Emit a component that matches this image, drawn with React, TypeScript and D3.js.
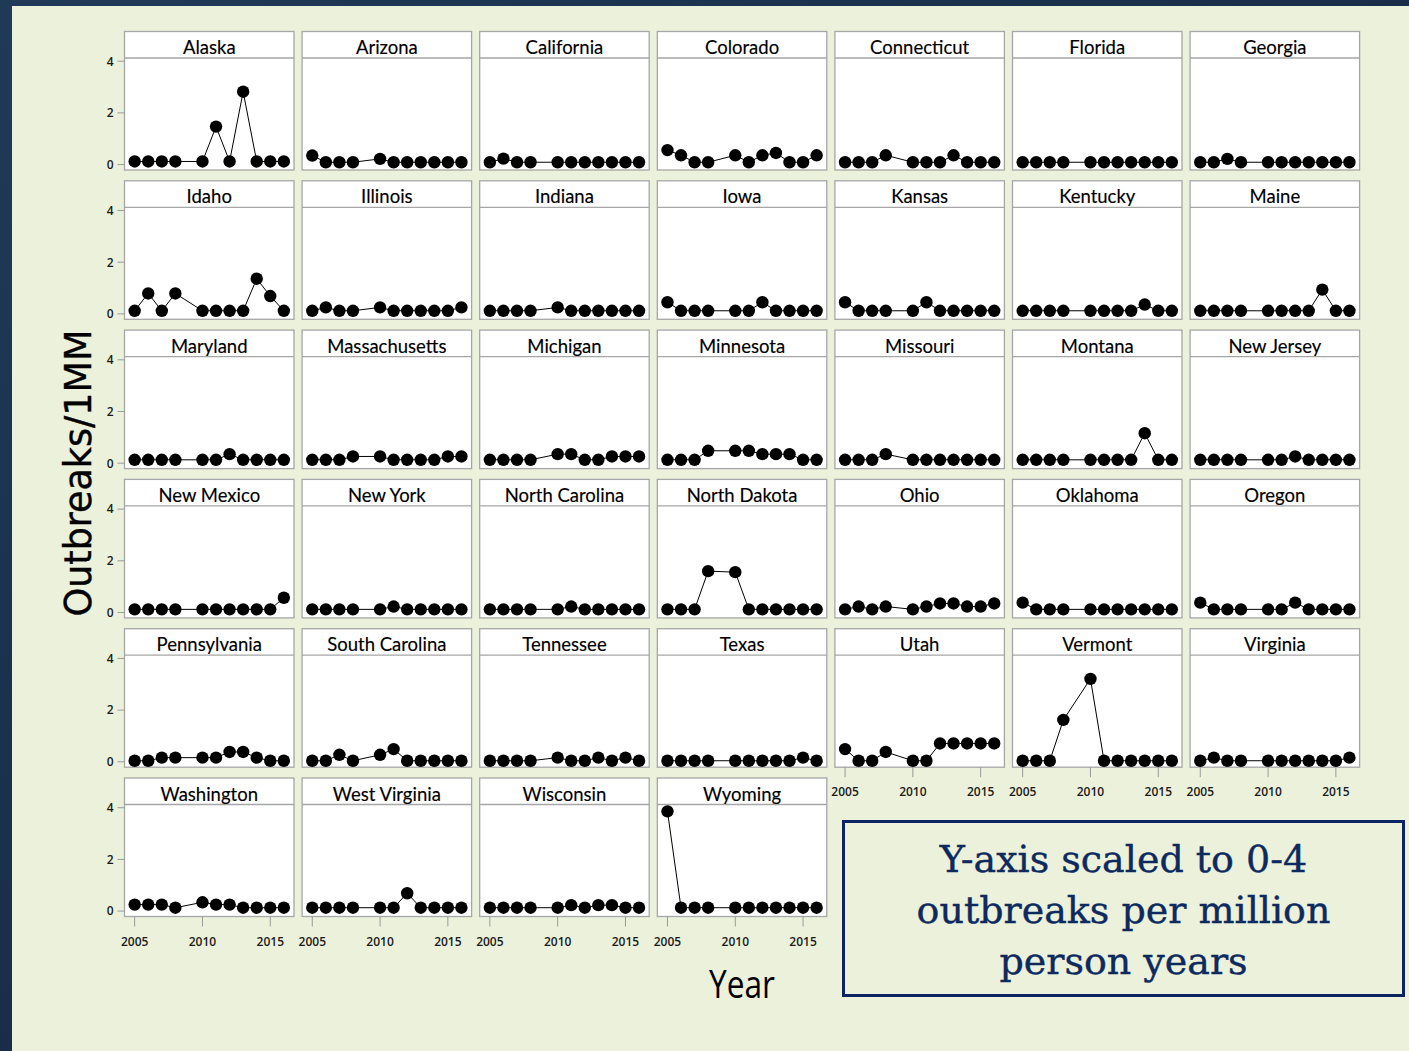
import React from 'react';
import * as d3 from 'd3';

const years = [2005, 2006, 2007, 2008, 2010, 2011, 2012, 2013, 2014, 2015, 2016];
const xTicks = [2005, 2010, 2015];
const yTicks = [0, 2, 4];

const states = [
  'Alaska', 'Arizona', 'California', 'Colorado', 'Connecticut', 'Florida', 'Georgia',
  'Idaho', 'Illinois', 'Indiana', 'Iowa', 'Kansas', 'Kentucky', 'Maine',
  'Maryland', 'Massachusetts', 'Michigan', 'Minnesota', 'Missouri', 'Montana', 'New Jersey',
  'New Mexico', 'New York', 'North Carolina', 'North Dakota', 'Ohio', 'Oklahoma', 'Oregon',
  'Pennsylvania', 'South Carolina', 'Tennessee', 'Texas', 'Utah', 'Vermont', 'Virginia',
  'Washington', 'West Virginia', 'Wisconsin', 'Wyoming',
];

const alaska = [0.12, 0.12, 0.12, 0.12, 0.12, 1.47, 0.12, 2.82, 0.12, 0.12, 0.12];
const arizona = [0.35, 0.09, 0.09, 0.09, 0.22, 0.09, 0.09, 0.09, 0.09, 0.09, 0.09];
const california = [0.09, 0.23, 0.09, 0.09, 0.09, 0.09, 0.09, 0.09, 0.09, 0.09, 0.09];
const colorado = [0.56, 0.36, 0.09, 0.09, 0.36, 0.09, 0.36, 0.45, 0.09, 0.09, 0.36];
const connecticut = [0.09, 0.09, 0.09, 0.36, 0.09, 0.09, 0.09, 0.36, 0.09, 0.09, 0.09];
const florida = [0.09, 0.09, 0.09, 0.09, 0.09, 0.09, 0.09, 0.09, 0.09, 0.09, 0.09];
const georgia = [0.09, 0.09, 0.22, 0.09, 0.09, 0.09, 0.09, 0.09, 0.09, 0.09, 0.09];
const idaho = [0.12, 0.79, 0.12, 0.79, 0.12, 0.12, 0.12, 0.12, 1.36, 0.69, 0.12];
const illinois = [0.12, 0.25, 0.12, 0.12, 0.25, 0.12, 0.12, 0.12, 0.12, 0.12, 0.25];
const indiana = [0.12, 0.12, 0.12, 0.12, 0.25, 0.12, 0.12, 0.12, 0.12, 0.12, 0.12];
const iowa = [0.45, 0.12, 0.12, 0.12, 0.12, 0.12, 0.45, 0.12, 0.12, 0.12, 0.12];
const kansas = [0.45, 0.12, 0.12, 0.12, 0.12, 0.45, 0.12, 0.12, 0.12, 0.12, 0.12];
const kentucky = [0.12, 0.12, 0.12, 0.12, 0.12, 0.12, 0.12, 0.12, 0.36, 0.12, 0.12];
const maine = [0.12, 0.12, 0.12, 0.12, 0.12, 0.12, 0.12, 0.12, 0.94, 0.12, 0.12];
const maryland = [0.13, 0.13, 0.13, 0.13, 0.13, 0.13, 0.35, 0.13, 0.13, 0.13, 0.13];
const massachusetts = [0.13, 0.13, 0.13, 0.26, 0.26, 0.13, 0.13, 0.13, 0.13, 0.26, 0.26];
const michigan = [0.13, 0.13, 0.13, 0.13, 0.35, 0.35, 0.13, 0.13, 0.26, 0.26, 0.26];
const minnesota = [0.13, 0.13, 0.13, 0.48, 0.48, 0.48, 0.35, 0.35, 0.35, 0.13, 0.13];
const missouri = [0.13, 0.13, 0.13, 0.35, 0.13, 0.13, 0.13, 0.13, 0.13, 0.13, 0.13];
const montana = [0.13, 0.13, 0.13, 0.13, 0.13, 0.13, 0.13, 0.13, 1.16, 0.13, 0.13];
const newJersey = [0.13, 0.13, 0.13, 0.13, 0.13, 0.13, 0.26, 0.13, 0.13, 0.13, 0.13];
const newMexico = [0.12, 0.12, 0.12, 0.12, 0.12, 0.12, 0.12, 0.12, 0.12, 0.12, 0.57];
const newYork = [0.12, 0.12, 0.12, 0.12, 0.12, 0.23, 0.12, 0.12, 0.12, 0.12, 0.12];
const northCarolina = [0.12, 0.12, 0.12, 0.12, 0.12, 0.23, 0.12, 0.12, 0.12, 0.12, 0.12];
const northDakota = [0.12, 0.12, 0.12, 1.6, 1.56, 0.12, 0.12, 0.12, 0.12, 0.12, 0.12];
const ohio = [0.12, 0.23, 0.12, 0.23, 0.12, 0.23, 0.35, 0.35, 0.23, 0.23, 0.35];
const oklahoma = [0.38, 0.12, 0.12, 0.12, 0.12, 0.12, 0.12, 0.12, 0.12, 0.12, 0.12];
const oregon = [0.38, 0.12, 0.12, 0.12, 0.12, 0.12, 0.38, 0.12, 0.12, 0.12, 0.12];
const pennsylvania = [0.04, 0.04, 0.16, 0.16, 0.16, 0.16, 0.38, 0.38, 0.16, 0.04, 0.04];
const southCarolina = [0.04, 0.04, 0.27, 0.04, 0.27, 0.49, 0.04, 0.04, 0.04, 0.04, 0.04];
const tennessee = [0.04, 0.04, 0.04, 0.04, 0.16, 0.04, 0.04, 0.16, 0.04, 0.16, 0.04];
const texas = [0.04, 0.04, 0.04, 0.04, 0.04, 0.04, 0.04, 0.04, 0.04, 0.16, 0.04];
const utah = [0.49, 0.04, 0.04, 0.38, 0.04, 0.04, 0.71, 0.71, 0.71, 0.71, 0.71];
const vermont = [0.04, 0.04, 0.04, 1.62, 3.21, 0.04, 0.04, 0.04, 0.04, 0.04, 0.04];
const virginia = [0.04, 0.16, 0.04, 0.04, 0.04, 0.04, 0.04, 0.04, 0.04, 0.04, 0.16];
const washington = [0.25, 0.25, 0.25, 0.13, 0.34, 0.25, 0.25, 0.13, 0.13, 0.13, 0.13];
const westVirginia = [0.13, 0.13, 0.13, 0.13, 0.13, 0.13, 0.69, 0.13, 0.13, 0.13, 0.13];
const wisconsin = [0.13, 0.13, 0.13, 0.13, 0.13, 0.23, 0.13, 0.23, 0.23, 0.13, 0.13];
const wyoming = [3.86, 0.13, 0.13, 0.13, 0.13, 0.13, 0.13, 0.13, 0.13, 0.13, 0.13];

const series = [
  alaska, arizona, california, colorado, connecticut, florida, georgia,
  idaho, illinois, indiana, iowa, kansas, kentucky, maine,
  maryland, massachusetts, michigan, minnesota, missouri, montana, newJersey,
  newMexico, newYork, northCarolina, northDakota, ohio, oklahoma, oregon,
  pennsylvania, southCarolina, tennessee, texas, utah, vermont, virginia,
  washington, westVirginia, wisconsin, wyoming,
];

const noteLines = ['Y-axis scaled to 0-4', 'outbreaks per million', 'person years'];

export default function App() {
  const W = 1409;
  const H = 1051;
  const nCols = 7;
  const pw = 169.5;
  const ph = 138.5;
  const sh = 26.5;
  const colX = d3.scaleLinear().domain([0, 6]).range([124.5, 1190.1]);
  const rowY = d3.scaleLinear().domain([0, 5]).range([31.5, 778]);
  const x = d3.scaleLinear().domain([2004.25, 2016.75]).range([0, pw]);
  const y = d3.scaleLinear().domain([-0.21, 4.125]).range([ph, sh]);
  const line = d3
    .line<number>()
    .x((_, i) => x(years[i]))
    .y((d) => y(d));

  const tickFont = '"Open Sans", Lato, sans-serif';
  const n = states.length;

  return (
    <svg
      width={W}
      height={H}
      style={{ position: 'absolute', left: 0, top: 0, display: 'block' }}
    >
      <defs>
        <linearGradient id="bg" x1="0" y1="0" x2="1" y2="1">
          <stop offset="0" stopColor="#1f3a57" />
          <stop offset="1" stopColor="#12223a" />
        </linearGradient>
      </defs>
      <rect x={0} y={0} width={W} height={H} fill="url(#bg)" />
      <rect x={12} y={6} width={W - 12} height={H - 6} fill="#ecf1db" />

      {states.map((name, i) => {
        const r = Math.floor(i / nCols);
        const c = i % nCols;
        const px = colX(c);
        const py = rowY(r);
        const vals = series[i];
        const showX = i + nCols >= n;
        const showY = c === 0;
        return (
          <g key={name} transform={`translate(${px},${py})`}>
            <rect x={0} y={0} width={pw} height={ph} fill="#ffffff" stroke="#a6a6a6" strokeWidth={1.3} />
            <line x1={0} x2={pw} y1={sh} y2={sh} stroke="#a6a6a6" strokeWidth={1.3} />
            <text
              x={pw / 2}
              y={22.5}
              textAnchor="middle"
              fontFamily='Lato, "Open Sans", sans-serif'
              fontSize={18.5}
              fill="#000"
              stroke="#000"
              strokeWidth={0.15}
            >
              {name}
            </text>
            <path d={line(vals) || ''} fill="none" stroke="#000" strokeWidth={1} />
            {vals.map((v, k) => (
              <circle key={k} cx={x(years[k])} cy={y(v)} r={6.2} fill="#000" />
            ))}
            {showY &&
              yTicks.map((t) => (
                <g key={t} transform={`translate(0,${y(t)})`}>
                  <line x1={-7} x2={0} stroke="#9a9a9a" strokeWidth={1} />
                  <text
                    x={-11}
                    dy="0.36em"
                    textAnchor="end"
                    fontFamily={tickFont}
                    fontSize={12}
                    fontWeight={600}
                    fill="#1a1a1a"
                  >
                    {t}
                  </text>
                </g>
              ))}
            {showX &&
              xTicks.map((t) => (
                <g key={t} transform={`translate(${x(t)},${ph})`}>
                  <line y1={0} y2={10} stroke="#9a9a9a" strokeWidth={1} />
                  <text
                    y={29}
                    textAnchor="middle"
                    fontFamily={tickFont}
                    fontSize={12}
                    fontWeight={600}
                    fill="#1a1a1a"
                  >
                    {t}
                  </text>
                </g>
              ))}
          </g>
        );
      })}

      <text
        x={91}
        y={473}
        transform="rotate(-90, 91, 473)"
        textAnchor="middle"
        fontFamily='"DejaVu Sans", Verdana, sans-serif'
        fontSize={36.5}
        fill="#000"
        stroke="#000"
        strokeWidth={0.4}
      >
        Outbreaks/1MM
      </text>
      <text
        x={742}
        y={998}
        textAnchor="middle"
        fontFamily='"Open Sans", Lato, sans-serif'
        fontSize={38}
        fill="#000"
        textLength={66}
        lengthAdjust="spacingAndGlyphs"
      >
        Year
      </text>

      <rect x={843.5} y={821.5} width={560} height={174} fill="none" stroke="#0c2461" strokeWidth={3} />
      {noteLines.map((t, k) => (
        <text
          key={k}
          x={1123.5}
          y={872 + k * 51}
          textAnchor="middle"
          fontFamily='"DejaVu Serif", "Liberation Serif", serif'
          fontSize={38}
          fill="#0d2a5e"
          stroke="#0d2a5e"
          strokeWidth={0.4}
        >
          {t}
        </text>
      ))}
    </svg>
  );
}
